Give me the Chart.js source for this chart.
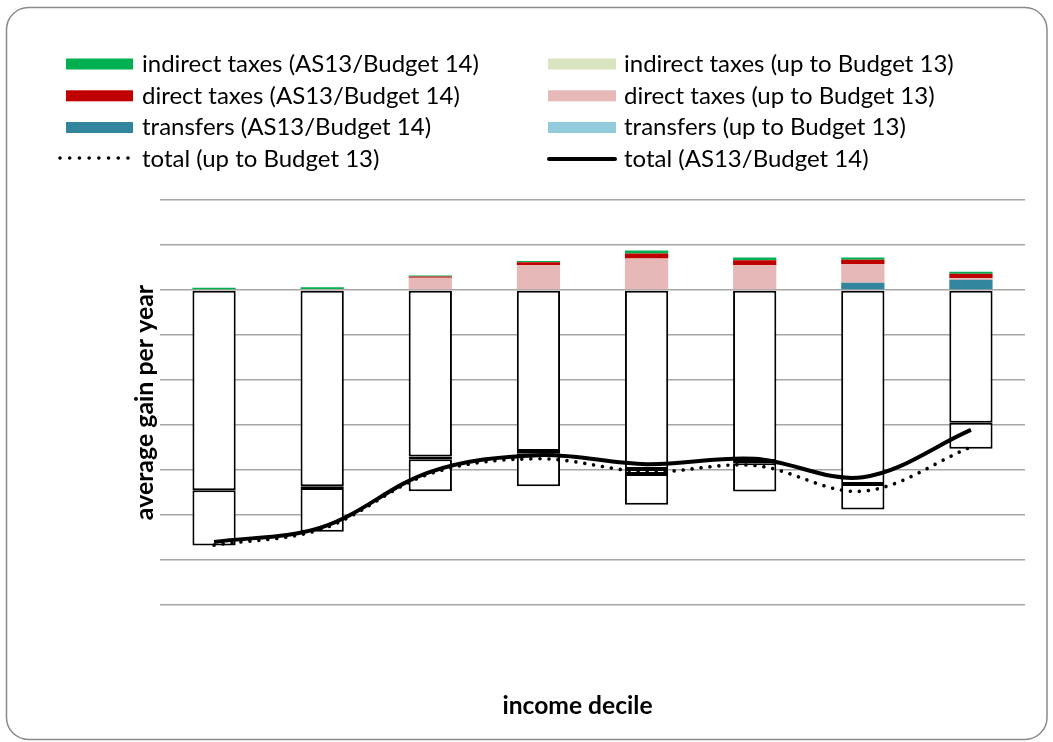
<!DOCTYPE html>
<html>
<head>
<meta charset="utf-8">
<script src="https://cdn.jsdelivr.net/npm/chart.js@4.4.1/dist/chart.umd.min.js"></script>
<style>
  html, body { margin: 0; padding: 0; background: #ffffff; }
  #wrap { position: relative; width: 1053px; height: 742px; }
  canvas { display: block; }
</style>
</head>
<body>
<div id="wrap"><canvas id="c" width="1053" height="742"></canvas></div>
<script>
// ---- data (units = one gridline step) ----
const categories = ['1', '2', '3', '4', '5', '6', '7', '8'];
const indirectUpToB13   = [-4.45, -4.36, -3.70, -3.58, -3.98, -3.80, -4.31, -2.95];
const transfersUpToB13  = [-1.23, -0.04, -0.06, -0.05, -0.11, -0.05, -0.57, -0.58];
const transfersAS13     = [0, -0.97, -0.71, -0.73, -0.68, -0.63, 0.16, 0.23];
const directUpToB13     = [0, 0.02, 0.27, 0.55, 0.70, 0.55, 0.41, 0.03];
const directAS13        = [0, 0, 0.03, 0.067, 0.11, 0.11, 0.10, 0.10];
const indirectAS13      = [0.05, 0.04, 0.02, 0.03, 0.067, 0.06, 0.05, 0.045];
const totalUpToB13      = [-5.67, -5.31, -4.08, -3.75, -4.04, -3.90, -4.47, -3.49];
const totalAS13         = [-5.60, -5.27, -4.04, -3.67, -3.87, -3.75, -4.16, -3.11];
const yTicks            = [-7, -6, -5, -4, -3, -2, -1, 0, 1, 2];

const COL = {
  indirectAS13: '#00b050', indirectUp: '#d7e4bd',
  directAS13: '#c00000', directUp: '#e6b9b8',
  transfersAS13: '#31859c', transfersUp: '#93cddd'
};

// font size that makes a bold text reach a given width
function fitSize(text, weight, target) {
  const c = document.createElement('canvas').getContext('2d');
  c.font = weight + ' 100px Lato';
  return Math.round(100 * target / c.measureText(text).width * 10) / 10;
}
const yTitleSize = fitSize('average gain per year', 'bold', 235);
const xTitleSize = fitSize('income decile', 'bold', 150);

function barSet(label, data, color) {
  return {
    type: 'bar', label, data, stack: 'bars', order: 1,
    legendColor: color,
    backgroundColor: (ctx) => (ctx.raw !== undefined && ctx.raw < 0) ? '#ffffff' : color,
    borderColor: (ctx) => (ctx.raw !== undefined && ctx.raw < 0) ? '#000000' : color,
    borderWidth: (ctx) => (ctx.raw !== undefined && ctx.raw < 0) ? 2 : 0,
    borderSkipped: false,
    categoryPercentage: 0.8, barPercentage: 0.5
  };
}

const datasets = [
  barSet('indirect taxes (up to Budget 13)', indirectUpToB13, COL.indirectUp),
  barSet('transfers (up to Budget 13)', transfersUpToB13, COL.transfersUp),
  barSet('transfers (AS13/Budget 14)', transfersAS13, COL.transfersAS13),
  barSet('direct taxes (up to Budget 13)', directUpToB13, COL.directUp),
  barSet('direct taxes (AS13/Budget 14)', directAS13, COL.directAS13),
  barSet('indirect taxes (AS13/Budget 14)', indirectAS13, COL.indirectAS13),
  {
    type: 'line', label: 'total (up to Budget 13)', data: totalUpToB13,
    stack: 'tUp', order: 0, borderColor: '#000', backgroundColor: '#000',
    borderWidth: 3.6, borderDash: [0.01, 9], borderCapStyle: 'round',
    pointRadius: 0, tension: 0.35, fill: false, legendKind: 'dotted'
  },
  {
    type: 'line', label: 'total (AS13/Budget 14)', data: totalAS13,
    stack: 'tAS', order: 0, borderColor: '#000', backgroundColor: '#000',
    borderWidth: 4, pointRadius: 0, tension: 0.35, fill: false, legendKind: 'solid'
  }
];

// legend layout order (two columns, four rows)
const legendOrder = [
  'indirect taxes (AS13/Budget 14)', 'indirect taxes (up to Budget 13)',
  'direct taxes (AS13/Budget 14)', 'direct taxes (up to Budget 13)',
  'transfers (AS13/Budget 14)', 'transfers (up to Budget 13)',
  'total (up to Budget 13)', 'total (AS13/Budget 14)'
];

const frameAndLegend = {
  id: 'frameAndLegend',
  beforeDraw(chart) {
    const ctx = chart.ctx;
    ctx.save();
    ctx.fillStyle = '#ffffff';
    ctx.fillRect(0, 0, chart.width, chart.height);
    // rounded outer frame
    const x = 6.5, y = 7.5, w = 1040.5, h = 732, r = 22;
    ctx.beginPath();
    ctx.moveTo(x + r, y);
    ctx.lineTo(x + w - r, y);
    ctx.arcTo(x + w, y, x + w, y + r, r);
    ctx.lineTo(x + w, y + h - r);
    ctx.arcTo(x + w, y + h, x + w - r, y + h, r);
    ctx.lineTo(x + r, y + h);
    ctx.arcTo(x, y + h, x, y + h - r, r);
    ctx.lineTo(x, y + r);
    ctx.arcTo(x, y, x + r, y, r);
    ctx.closePath();
    ctx.strokeStyle = '#8a8a8a';
    ctx.lineWidth = 1.5;
    ctx.stroke();
    ctx.restore();
  },
  afterDraw(chart) {
    const ctx = chart.ctx;
    ctx.save();
    // fit legend font so the first label spans ~340px
    ctx.font = '100px Lato';
    const wRef = ctx.measureText('indirect taxes (AS13/Budget 14)').width;
    const fs = Math.min(24, 100 * 340 / wRef);
    ctx.font = fs.toFixed(2) + 'px Lato';
    ctx.textBaseline = 'middle';
    ctx.fillStyle = '#000';
    const rowsY = [64, 95.8, 127.5, 159];
    const cols = [
      { boxL: 66, boxR: 133, textX: 142 },
      { boxL: 548, boxR: 616, textX: 624 }
    ];
    legendOrder.forEach((label, i) => {
      const ds = chart.data.datasets.find(d => d.label === label);
      const col = cols[i % 2];
      const cy = rowsY[Math.floor(i / 2)];
      if (ds.type === 'bar') {
        ctx.fillStyle = ds.legendColor;
        ctx.fillRect(col.boxL, cy - 5.5, col.boxR - col.boxL, 11);
      } else if (ds.legendKind === 'dotted') {
        ctx.strokeStyle = '#000';
        ctx.lineWidth = 3.6;
        ctx.lineCap = 'round';
        ctx.setLineDash([0.01, 9.7]);
        ctx.beginPath();
        ctx.moveTo(60, cy - 1);
        ctx.lineTo(134, cy - 1);
        ctx.stroke();
        ctx.setLineDash([]);
      } else {
        ctx.strokeStyle = '#000';
        ctx.lineWidth = 4;
        ctx.lineCap = 'round';
        ctx.beginPath();
        ctx.moveTo(col.boxL + 1, cy);
        ctx.lineTo(col.boxR - 1, cy);
        ctx.stroke();
      }
      ctx.fillStyle = '#000';
      ctx.fillText(label, col.textX, cy);
    });
    ctx.restore();
  }
};

new Chart(document.getElementById('c'), {
  data: { labels: categories, datasets },
  options: {
    responsive: false,
    animation: false,
    layout: { padding: { left: 130, right: 28, top: 200, bottom: 21 } },
    plugins: {
      legend: { display: false },
      tooltip: { enabled: false },
      title: {
        display: true, position: 'bottom', text: 'income decile',
        color: '#000', padding: 0,
        font: { family: 'Lato', size: xTitleSize, weight: 'bold', lineHeight: 1.2 }
      }
    },
    scales: {
      x: {
        stacked: true,
        grid: { display: false, drawTicks: false },
        border: { display: false },
        ticks: { display: false },
        afterFit: (s) => { s.height = 742 - 21 - xTitleSize * 1.2 - 605; }
      },
      y: {
        stacked: true,
        min: yTicks[0], max: yTicks[yTicks.length - 1],
        afterBuildTicks: (s) => { s.ticks = yTicks.map(v => ({ value: v })); },
        ticks: { display: false },
        grid: { color: '#a6a6a6', lineWidth: 1.5, drawTicks: false },
        border: { display: false },
        title: {
          display: true, text: 'average gain per year', color: '#000',
          padding: { top: Math.max(0, 15 - yTitleSize * 0.6), bottom: 0 },
          font: { family: 'Lato', size: yTitleSize, weight: 'bold', lineHeight: 1.2 }
        },
        afterFit: (s) => { s.width = 30; }
      }
    }
  },
  plugins: [frameAndLegend]
});
</script>
</body>
</html>
